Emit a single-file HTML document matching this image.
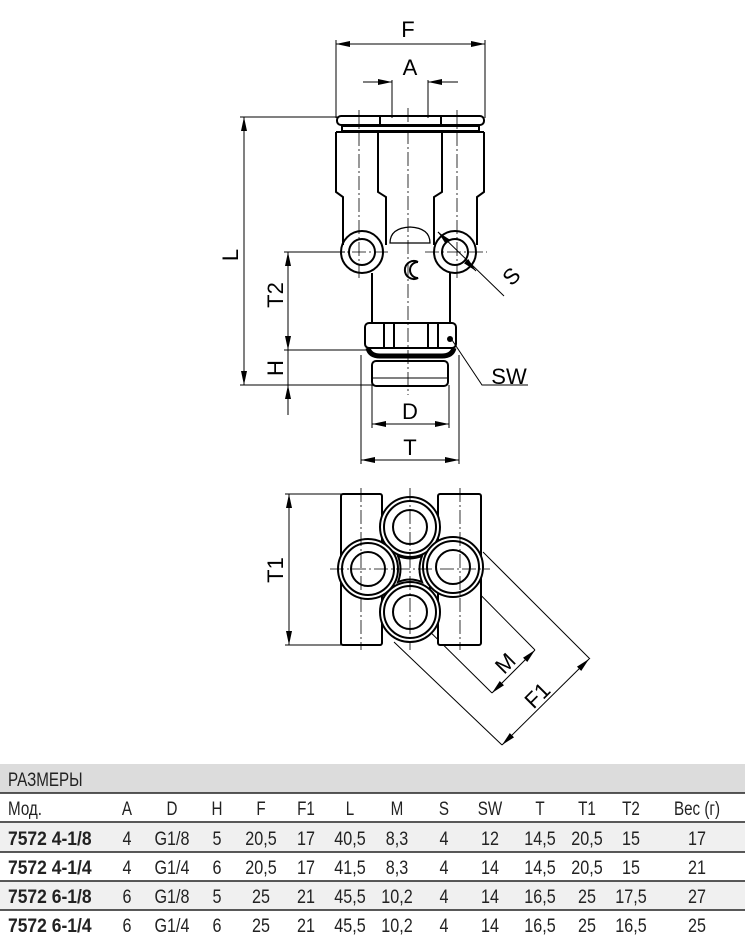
<!DOCTYPE html>
<html><head><meta charset="utf-8"><style>
html,body{margin:0;padding:0;background:#fff;}
svg{display:block;}
text{font-family:"Liberation Sans",sans-serif;}
</style></head><body>
<svg width="745" height="940" viewBox="0 0 745 940" xmlns="http://www.w3.org/2000/svg">
<defs>
<marker id="ar" markerWidth="14" markerHeight="6" refX="14" refY="3" orient="auto-start-reverse" markerUnits="userSpaceOnUse">
<path d="M0,0 L14,3 L0,6 z" fill="#000"/></marker>
</defs>
<g fill="none" stroke="#000" stroke-width="1">
<line x1="336" y1="40" x2="336" y2="118"/><line x1="485" y1="40" x2="485" y2="118"/>
<line x1="336" y1="44" x2="485" y2="44" marker-start="url(#ar)" marker-end="url(#ar)"/>
<line x1="392" y1="80" x2="392" y2="118"/><line x1="428" y1="80" x2="428" y2="118"/>
<line x1="363" y1="82" x2="392" y2="82" marker-end="url(#ar)"/>
<line x1="458" y1="82" x2="428" y2="82" marker-end="url(#ar)"/>
<line x1="240" y1="117" x2="338" y2="117"/>
<line x1="240" y1="385" x2="375" y2="385"/>
<line x1="244" y1="117" x2="244" y2="385" marker-start="url(#ar)" marker-end="url(#ar)"/>
<line x1="284" y1="252" x2="345" y2="252"/>
<line x1="284" y1="350" x2="368" y2="350"/>
<line x1="288" y1="252" x2="288" y2="350" marker-start="url(#ar)" marker-end="url(#ar)"/>
<line x1="288" y1="415" x2="288" y2="385" marker-end="url(#ar)"/>
<line x1="288" y1="350" x2="288" y2="385"/>
<line x1="372" y1="385" x2="372" y2="428"/><line x1="449" y1="385" x2="449" y2="428"/>
<line x1="372" y1="424" x2="449" y2="424" marker-start="url(#ar)" marker-end="url(#ar)"/>
<line x1="361" y1="355" x2="361" y2="464"/><line x1="459" y1="355" x2="459" y2="464"/>
<line x1="361" y1="460" x2="459" y2="460" marker-start="url(#ar)" marker-end="url(#ar)"/>
<polyline points="452,340 482,385 528,385"/>
<line x1="438" y1="232" x2="504" y2="296"/>
<line x1="445" y1="239" x2="438" y2="232" marker-end="url(#ar)"/>
<line x1="465" y1="260" x2="476" y2="271" marker-end="url(#ar)"/>
</g>
<g fill="none" stroke="#000" stroke-width="2">
<rect x="337" y="116" width="147" height="9" rx="4"/>
<line x1="380" y1="116" x2="380" y2="125"/><line x1="441" y1="116" x2="441" y2="125"/>
<rect x="342" y="126" width="137" height="5"/>
<path d="M336,132 L336,192 L343,197 L343,245"/>
<path d="M484,132 L484,192 L477,197 L477,245"/>
<path d="M378,132 L378,192 L386,197 L386,245"/>
<path d="M442,132 L442,192 L434,197 L434,245"/>
<line x1="336" y1="132" x2="484" y2="132"/>
<path d="M390,243 Q390,228 410,227 Q430,228 430,243 Z" stroke-width="1.2"/>
<circle cx="362" cy="252" r="21"/><circle cx="362" cy="252" r="13"/>
<circle cx="455" cy="252" r="21"/><circle cx="455" cy="252" r="13"/>
<line x1="372" y1="273" x2="372" y2="323"/><line x1="450" y1="273" x2="450" y2="323"/>
<path d="M418,262 A9,9 0 1 0 418,278 A8,8 0 0 1 418,262" />
<rect x="365" y="323" width="91" height="25" rx="4"/>
<line x1="384" y1="324" x2="384" y2="347"/><line x1="394" y1="324" x2="394" y2="347"/>
<line x1="428" y1="324" x2="428" y2="347"/><line x1="438" y1="324" x2="438" y2="347"/>
<path d="M368,348 Q370,356 380,356 L442,356 Q452,356 454,348" stroke-width="5"/>
<rect x="372" y="361" width="76" height="25" rx="4"/>
<line x1="373" y1="378" x2="447" y2="378" stroke-width="1"/>
</g>
<circle cx="450" cy="339" r="3" fill="#000"/>
<g stroke="#000" stroke-width="0.8" stroke-dasharray="14,3,2,3" fill="none">
<line x1="408" y1="108" x2="408" y2="395"/>
<line x1="359" y1="110" x2="359" y2="280"/>
<line x1="457" y1="110" x2="457" y2="280"/>
<line x1="330" y1="252" x2="390" y2="252"/>
<line x1="425" y1="252" x2="487" y2="252"/>
</g>
<g font-size="22" text-anchor="middle">
<text x="408" y="37">F</text>
<text x="410" y="75">A</text>
<text x="230" y="263" transform="rotate(-90 230 255)">L</text>
<text x="275" y="303" transform="rotate(-90 275 295)">T2</text>
<text x="275" y="376" transform="rotate(-90 275 368)">H</text>
<text x="410" y="419">D</text>
<text x="410" y="455">T</text>
<text x="509" y="384">SW</text>
<text x="511" y="284" transform="rotate(-45 511 276)">S</text>
<text x="275" y="578" transform="rotate(-90 275 570)">T1</text>
<text x="505" y="671" transform="rotate(-45 505 663)">M</text>
<text x="537" y="703" transform="rotate(-45 537 695)">F1</text>
</g>
<g fill="none" stroke="#000" stroke-width="1">
<line x1="285" y1="494" x2="345" y2="494"/><line x1="285" y1="645" x2="345" y2="645"/>
<line x1="289" y1="494" x2="289" y2="645" marker-start="url(#ar)" marker-end="url(#ar)"/>
<line x1="410" y1="612" x2="492" y2="693"/>
<line x1="453" y1="567" x2="535" y2="650"/>
<line x1="492" y1="693" x2="535" y2="650" marker-start="url(#ar)" marker-end="url(#ar)"/>
<line x1="394" y1="642" x2="502" y2="745"/>
<line x1="483" y1="552" x2="590" y2="659"/>
<line x1="502" y1="745" x2="589" y2="659" marker-start="url(#ar)" marker-end="url(#ar)"/>
</g>
<g fill="#fff" stroke="#000" stroke-width="2">
<rect x="341" y="494" width="41" height="151" rx="2"/>
<rect x="438" y="494" width="43" height="151" rx="2"/>
<rect x="390" y="548" width="40" height="42" fill="#fff"/>
<circle cx="410" cy="527" r="30"/><circle cx="410" cy="527" r="26"/><circle cx="410" cy="527" r="17"/>
<circle cx="368" cy="569" r="30"/><circle cx="368" cy="569" r="26"/><circle cx="368" cy="569" r="17"/>
<circle cx="453" cy="567" r="30"/><circle cx="453" cy="567" r="26"/><circle cx="453" cy="567" r="17"/>
<circle cx="410" cy="612" r="30"/><circle cx="410" cy="612" r="26"/><circle cx="410" cy="612" r="17"/>
<path d="M398,556 Q410,561 422,556 Q417,569 422,582 Q410,577 398,582 Q403,569 398,556 Z" fill="none"/>
</g>
<g stroke="#000" stroke-width="0.8" stroke-dasharray="14,3,2,3">
<line x1="410" y1="488" x2="410" y2="650"/>
<line x1="330" y1="569" x2="490" y2="569"/>
<line x1="361" y1="488" x2="361" y2="650"/>
<line x1="460" y1="488" x2="460" y2="650"/>
</g>
<rect x="0" y="764" width="745" height="29" fill="#dcdcdc"/>
<rect x="0" y="823" width="745" height="29" fill="#f0f0f0"/>
<rect x="0" y="881" width="745" height="29" fill="#f0f0f0"/>
<g stroke="#222" stroke-width="1.5">
<line x1="0" y1="793" x2="745" y2="793"/>
<line x1="0" y1="822" x2="745" y2="822"/>
<line x1="0" y1="852" x2="745" y2="852"/>
<line x1="0" y1="881" x2="745" y2="881"/>
<line x1="0" y1="910" x2="745" y2="910"/>
</g>
<g font-size="19" fill="#222">
<text transform="translate(8,786) scale(0.8,1)">РАЗМЕРЫ</text>
<text transform="translate(8,815) scale(0.8,1)">Мод.</text>
<g font-weight="bold">
<text transform="translate(8,845) scale(0.92,1)">7572 4-1/8</text>
<text transform="translate(8,874) scale(0.92,1)">7572 4-1/4</text>
<text transform="translate(8,903) scale(0.92,1)">7572 6-1/8</text>
<text transform="translate(8,932) scale(0.92,1)">7572 6-1/4</text>
</g>
</g>
<g font-size="19" fill="#222" text-anchor="middle">
<text transform="translate(127,815) scale(0.8,1)">A</text><text transform="translate(172,815) scale(0.8,1)">D</text><text transform="translate(217,815) scale(0.8,1)">H</text><text transform="translate(261,815) scale(0.8,1)">F</text><text transform="translate(306,815) scale(0.8,1)">F1</text><text transform="translate(350,815) scale(0.8,1)">L</text><text transform="translate(397,815) scale(0.8,1)">M</text><text transform="translate(444,815) scale(0.8,1)">S</text><text transform="translate(490,815) scale(0.8,1)">SW</text><text transform="translate(540,815) scale(0.8,1)">T</text><text transform="translate(587,815) scale(0.8,1)">T1</text><text transform="translate(631,815) scale(0.8,1)">T2</text><text transform="translate(697,815) scale(0.8,1)">Вес (г)</text>
<text transform="translate(127,845) scale(0.85,1)">4</text><text transform="translate(172,845) scale(0.85,1)">G1/8</text><text transform="translate(217,845) scale(0.85,1)">5</text><text transform="translate(261,845) scale(0.85,1)">20,5</text><text transform="translate(306,845) scale(0.85,1)">17</text><text transform="translate(350,845) scale(0.85,1)">40,5</text><text transform="translate(397,845) scale(0.85,1)">8,3</text><text transform="translate(444,845) scale(0.85,1)">4</text><text transform="translate(490,845) scale(0.85,1)">12</text><text transform="translate(540,845) scale(0.85,1)">14,5</text><text transform="translate(587,845) scale(0.85,1)">20,5</text><text transform="translate(631,845) scale(0.85,1)">15</text><text transform="translate(697,845) scale(0.85,1)">17</text>
<text transform="translate(127,874) scale(0.85,1)">4</text><text transform="translate(172,874) scale(0.85,1)">G1/4</text><text transform="translate(217,874) scale(0.85,1)">6</text><text transform="translate(261,874) scale(0.85,1)">20,5</text><text transform="translate(306,874) scale(0.85,1)">17</text><text transform="translate(350,874) scale(0.85,1)">41,5</text><text transform="translate(397,874) scale(0.85,1)">8,3</text><text transform="translate(444,874) scale(0.85,1)">4</text><text transform="translate(490,874) scale(0.85,1)">14</text><text transform="translate(540,874) scale(0.85,1)">14,5</text><text transform="translate(587,874) scale(0.85,1)">20,5</text><text transform="translate(631,874) scale(0.85,1)">15</text><text transform="translate(697,874) scale(0.85,1)">21</text>
<text transform="translate(127,903) scale(0.85,1)">6</text><text transform="translate(172,903) scale(0.85,1)">G1/8</text><text transform="translate(217,903) scale(0.85,1)">5</text><text transform="translate(261,903) scale(0.85,1)">25</text><text transform="translate(306,903) scale(0.85,1)">21</text><text transform="translate(350,903) scale(0.85,1)">45,5</text><text transform="translate(397,903) scale(0.85,1)">10,2</text><text transform="translate(444,903) scale(0.85,1)">4</text><text transform="translate(490,903) scale(0.85,1)">14</text><text transform="translate(540,903) scale(0.85,1)">16,5</text><text transform="translate(587,903) scale(0.85,1)">25</text><text transform="translate(631,903) scale(0.85,1)">17,5</text><text transform="translate(697,903) scale(0.85,1)">27</text>
<text transform="translate(127,932) scale(0.85,1)">6</text><text transform="translate(172,932) scale(0.85,1)">G1/4</text><text transform="translate(217,932) scale(0.85,1)">6</text><text transform="translate(261,932) scale(0.85,1)">25</text><text transform="translate(306,932) scale(0.85,1)">21</text><text transform="translate(350,932) scale(0.85,1)">45,5</text><text transform="translate(397,932) scale(0.85,1)">10,2</text><text transform="translate(444,932) scale(0.85,1)">4</text><text transform="translate(490,932) scale(0.85,1)">14</text><text transform="translate(540,932) scale(0.85,1)">16,5</text><text transform="translate(587,932) scale(0.85,1)">25</text><text transform="translate(631,932) scale(0.85,1)">16,5</text><text transform="translate(697,932) scale(0.85,1)">25</text>
</g>
</svg>
</body></html>
